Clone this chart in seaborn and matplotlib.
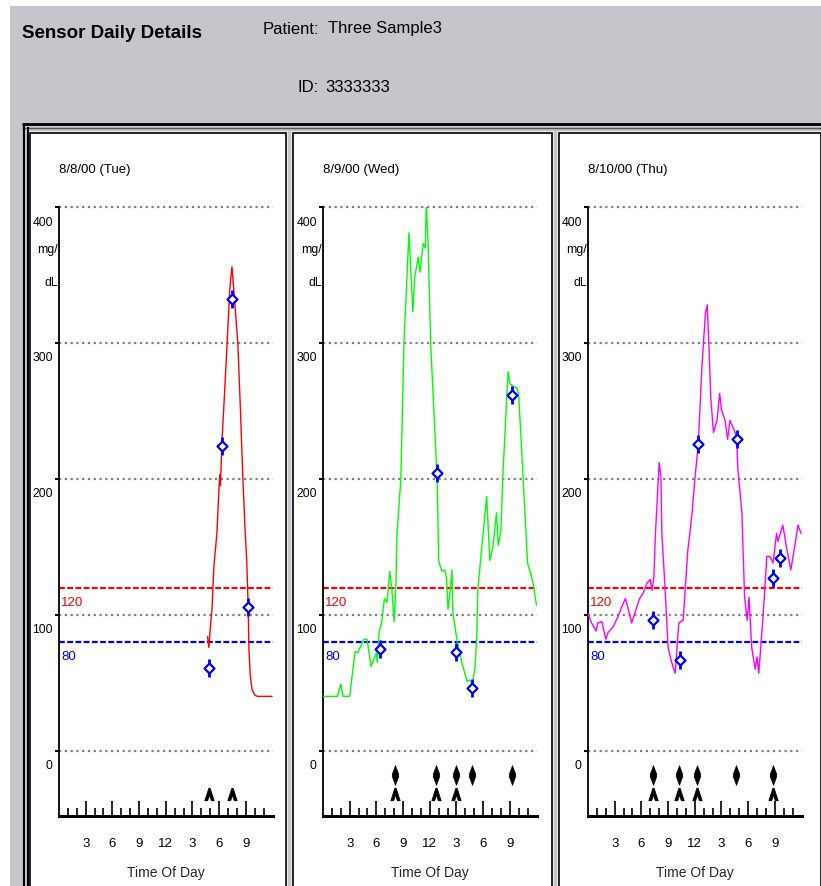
import numpy as np
import pandas as pd
import matplotlib
matplotlib.use("Agg")
import matplotlib.pyplot as plt
import matplotlib.transforms as mtransforms
from matplotlib.patches import Rectangle
from matplotlib.lines import Line2D
from matplotlib.path import Path
import seaborn as sns

# ---------------------------------------------------------------- data
patient_name = "Three Sample3"
patient_id = "3333333"
day_titles = ["8/8/00 (Tue)", "8/9/00 (Wed)", "8/10/00 (Thu)"]

# continuous sensor trace, hours after midnight / mg/dL
tue_hours = [16.7, 16.85, 17.0, 17.2, 17.4, 17.75, 18.0, 18.08, 18.15, 18.3, 18.6,
             18.9, 19.2, 19.44, 19.7, 20.1, 20.4, 20.67, 20.9, 21.1, 21.25, 21.35,
             21.5, 21.7, 22.0, 22.3, 23.95]
tue_glucose = [84, 76, 90, 104, 135, 160, 195, 203, 195, 225, 262,
               300, 340, 356, 335, 300, 250, 200, 165, 140, 110, 75,
               55, 45, 41, 40, 40]

wed_hours = [0.0, 1.6, 2.0, 2.25, 3.0, 3.6, 3.9, 4.6, 4.95, 5.4, 6.0, 6.1, 6.3,
             6.6, 6.9, 7.2, 7.5, 7.75, 8.0, 8.2, 8.3, 8.75, 9.1, 9.66, 10.1, 10.3,
             10.7, 10.9, 11.25, 11.5, 11.6, 11.8, 12.1, 12.8, 12.85, 13.0, 13.35,
             13.7, 13.9, 14.05, 14.3, 14.5, 14.6, 15.05, 15.6, 16.2, 16.5, 16.8,
             17.1, 17.3, 17.4, 17.85, 18.4, 18.75, 19.1, 19.5, 19.7, 20.0, 20.2,
             20.8, 21.0, 21.4, 21.8, 22.0, 22.5, 23.0, 23.6, 24.0]
wed_glucose = [40, 40, 49, 40, 40, 73, 72, 82, 82, 62, 72, 65, 87,
               95, 112, 109, 132, 118, 95, 124, 157, 200, 300, 381, 323, 348,
               363, 352, 373, 370, 401, 376, 300, 204, 195, 140, 132,
               133, 126, 104, 118, 133, 101, 82, 65, 51, 52, 49,
               62, 87, 118, 150, 187, 140, 150, 175, 151, 162, 200,
               279, 270, 268, 267, 262, 200, 138, 124, 107]

thu_hours = [0.0, 0.4, 0.9, 1.1, 1.55, 1.7, 2.0, 2.25, 2.8, 3.4, 3.8, 4.2, 4.5,
             4.9, 5.3, 5.8, 6.2, 6.6, 7.0, 7.2, 7.4, 7.6, 8.0, 8.2, 8.3, 8.65,
             9.0, 9.4, 9.8, 10.2, 10.7, 11.2, 11.7, 12.0, 12.4, 12.8, 13.2, 13.4,
             13.6, 13.8, 14.1, 14.5, 14.8, 15.0, 15.4, 15.7, 15.95, 16.3, 16.7,
             16.85, 17.3, 17.6, 17.9, 18.1, 18.4, 18.8, 19.0, 19.2, 19.7, 20.1,
             20.45, 20.8, 21.2, 21.35, 21.9, 22.3, 22.8, 23.3, 23.6, 23.95]
thu_glucose = [101, 94, 88, 94, 95, 91, 82, 87, 91, 99, 106, 112, 105,
               94, 102, 112, 116, 123, 126, 118, 128, 162, 212, 201, 160, 121,
               76, 65, 57, 94, 96, 146, 175, 199, 226, 282, 322, 328,
               297, 260, 234, 243, 263, 251, 243, 229, 243, 238, 231,
               207, 175, 113, 96, 113, 76, 60, 69, 57, 101, 143,
               143, 138, 160, 154, 166, 150, 133, 153, 166, 160]

# finger-stick meter readings
tue_meter_hours = [16.85, 18.31, 19.44, 21.24]
tue_meter_values = [61, 224, 332, 106]
wed_meter_hours = [6.4, 12.8, 14.95, 16.75, 21.2]
wed_meter_values = [75, 204, 73, 46, 262]
thu_meter_hours = [7.3, 10.35, 12.4, 16.7, 20.8, 21.55]
thu_meter_values = [96, 67, 226, 229, 127, 142]

# event markers along the bottom of each day
tue_insulin_hours = []
tue_carb_hours = [16.85, 19.45]
wed_insulin_hours = [8.1, 12.7, 14.9, 16.7, 21.2]
wed_carb_hours = [8.1, 12.7, 14.9]
thu_insulin_hours = [7.3, 10.2, 12.2, 16.6, 20.8]
thu_carb_hours = [7.3, 10.2, 12.2, 20.8]

high_limit = 120
low_limit = 80
y_ticks = [0, 100, 200, 300, 400]
x_major_ticks = [3, 6, 9, 12, 15, 18, 21]
x_major_labels = ["3", "6", "9", "12", "3", "6", "9"]

# ---------------------------------------------------------------- style
sns.set_style("white")
plt.rcParams["font.family"] = ["Liberation Sans Narrow", "Liberation Sans", "DejaVu Sans"]
plt.rcParams["text.color"] = "black"

W, H = 821, 886
fig = plt.figure(figsize=(W / 100, H / 100), dpi=100)
fig.patch.set_facecolor("white")


def fx(x):
    return x / W


def fy(y):
    return 1 - y / H


def rect(x0, y0, x1, y1, z=-10, **kw):
    fig.add_artist(Rectangle((fx(x0), fy(y1)), fx(x1 - x0), (y1 - y0) / H,
                             transform=fig.transFigure, zorder=z, **kw))


def hline(x0, x1, y, color, lw):
    fig.add_artist(Line2D([fx(x0), fx(x1)], [fy(y), fy(y)], color=color, lw=lw,
                          transform=fig.transFigure, solid_capstyle="butt",
                          zorder=-8))


def vline(x, y0, y1, color, lw):
    fig.add_artist(Line2D([fx(x), fx(x)], [fy(y0), fy(y1)], color=color, lw=lw,
                          transform=fig.transFigure, solid_capstyle="butt",
                          zorder=-8))


GREY = "#c6c6ca"
rect(10, 6, W, H, z=-12, facecolor=GREY, edgecolor="none")

# outer report frame
hline(22, W, 123.5, "black", 2.0)
hline(22, W, 127.5, "#555555", 1.0)
vline(23.5, 123, H, "black", 1.5)
vline(27.5, 127, H, "black", 1.5)

panel_boxes = [(28, 131, 288), (291, 131, 554), (557, 131, W + 2)]
for x0, y0, x1 in panel_boxes:
    rect(x0, y0, x1, H, z=-11, facecolor="#e8e8e8", edgecolor="none")
    rect(x0 + 2, y0 + 2, x1 - 2, H + 2, z=-10, facecolor="white",
         edgecolor="black", lw=1.2)

# header
fig.text(fx(22), fy(33), "Sensor Daily Details", fontsize=13.5, ha="left",
         va="center", fontweight="bold")
fig.text(fx(263), fy(29), "Patient:", fontsize=12, ha="left", va="center")
fig.text(fx(328), fy(29), patient_name, fontsize=12, ha="left", va="center")
fig.text(fx(297), fy(88), "ID:", fontsize=12, ha="left", va="center")
fig.text(fx(325), fy(88), patient_id, fontsize=12, ha="left", va="center")

# ---------------------------------------------------------------- panels
axis_lefts = [59, 323, 588]
AX_W = 213.5
AX_TOP, AX_BOTTOM = 207, 816
Y_MIN, Y_MAX = -48, 400

trace_colors = ["#ff0000", "#00ff00", "#ff00ff"]
traces = [(tue_hours, tue_glucose), (wed_hours, wed_glucose), (thu_hours, thu_glucose)]
meters = [(tue_meter_hours, tue_meter_values), (wed_meter_hours, wed_meter_values),
          (thu_meter_hours, thu_meter_values)]
insulin = [tue_insulin_hours, wed_insulin_hours, thu_insulin_hours]
carbs = [tue_carb_hours, wed_carb_hours, thu_carb_hours]

DIAMOND_LEVEL = -17.6
CARET_LEVEL = -31.5
diamond_marker = Path([(0, 1), (0.34, 0.08), (0.28, 0), (0.34, -0.08), (0, -1),
                       (-0.34, -0.08), (-0.28, 0), (-0.34, 0.08), (0, 1)])
caret_marker = Path([(-0.75, -1), (-0.1, 1), (0.1, 1), (0.75, -1), (0.3, -1),
                     (0, -0.1), (-0.3, -1), (-0.75, -1)])

label_shift = mtransforms.ScaledTranslation(0, -0.14, fig.dpi_scale_trans)
TICK_FS = 9.5
YTICK_FS = 8.8

for i in range(3):
    left = axis_lefts[i]
    ax = fig.add_axes([fx(left), fy(AX_BOTTOM), AX_W / W, (AX_BOTTOM - AX_TOP) / H])
    ax.set_facecolor("none")
    ax.set_xlim(0, 24)
    ax.set_ylim(Y_MIN, Y_MAX)

    # grid, limits
    for yv in y_ticks:
        ax.axhline(yv, color="#808080", lw=1.6, ls=(0, (1, 1.6)), zorder=1,
                   clip_on=False)
    ax.axhline(high_limit, color="#ff0000", lw=1.6, ls=(0, (2.6, 1.1)), zorder=1)
    ax.axhline(low_limit, color="#0000ff", lw=1.6, ls=(0, (2.6, 1.1)), zorder=1)
    ax.annotate(str(high_limit), xy=(0, high_limit), xytext=(2, -15),
                textcoords="offset pixels", color="#ff0000", fontsize=TICK_FS,
                ha="left", va="center")
    ax.annotate(str(low_limit), xy=(0, low_limit), xytext=(2, -15),
                textcoords="offset pixels", color="#0000ff", fontsize=TICK_FS,
                ha="left", va="center")

    # sensor trace
    hrs, vals = traces[i]
    sns.lineplot(x=hrs, y=vals, ax=ax, color=trace_colors[i], lw=1.0,
                 estimator=None, sort=False, zorder=3)

    # meter readings: vertical bar + hollow diamond
    mh, mv = meters[i]
    sns.scatterplot(x=mh, y=mv, ax=ax, marker="|", s=160, color="#0000ff",
                    edgecolor="#0000ff", linewidth=2.0, zorder=4)
    sns.scatterplot(x=mh, y=mv, ax=ax, marker="D", s=26, facecolor="white",
                    edgecolor="#0000ff", linewidth=1.6, zorder=5)

    # event markers
    if insulin[i]:
        sns.scatterplot(x=insulin[i], y=[DIAMOND_LEVEL] * len(insulin[i]), ax=ax,
                        marker=diamond_marker, s=200, color="black",
                        edgecolor="black", linewidth=0.5, zorder=4)
    if carbs[i]:
        sns.scatterplot(x=carbs[i], y=[CARET_LEVEL] * len(carbs[i]), ax=ax,
                        marker=caret_marker, s=80, color="black",
                        edgecolor="black", linewidth=0.6, zorder=4)

    # axes cosmetics
    for side in ("top", "right"):
        ax.spines[side].set_visible(False)
    ax.spines["left"].set_linewidth(1.3)
    ax.spines["bottom"].set_linewidth(2.2)
    ax.spines["left"].set_color("black")
    ax.spines["bottom"].set_color("black")

    ax.set_yticks(y_ticks)
    ax.set_yticklabels([str(v) for v in y_ticks], fontsize=YTICK_FS)
    ax.tick_params(axis="y", direction="out", length=3, width=1.5, pad=1.5,
                   left=True, colors="black")
    for lbl in ax.get_yticklabels():
        lbl.set_transform(lbl.get_transform() + label_shift)

    ax.set_xticks(x_major_ticks)
    ax.set_xticklabels(x_major_labels, fontsize=TICK_FS)
    ax.set_xticks([h for h in range(1, 24) if h % 3], minor=True)
    ax.tick_params(axis="x", which="major", direction="in", length=11, width=1.2,
                   pad=16, bottom=True, colors="black")
    ax.tick_params(axis="x", which="minor", direction="in", length=6, width=1.2,
                   bottom=True, colors="black")
    ax.set_xlabel("Time Of Day", fontsize=10, labelpad=11)
    ax.set_ylabel("")
    ax.grid(False)

    # units and day heading
    ax.text(-0.006, 0.929, "mg/", transform=ax.transAxes, fontsize=YTICK_FS,
            ha="right", va="center")
    ax.text(-0.006, 0.875, "dL", transform=ax.transAxes, fontsize=YTICK_FS,
            ha="right", va="center")
    fig.text(fx(left), fy(170), day_titles[i], fontsize=9.5, ha="left", va="center")

fig.savefig("out.png", dpi=100)
